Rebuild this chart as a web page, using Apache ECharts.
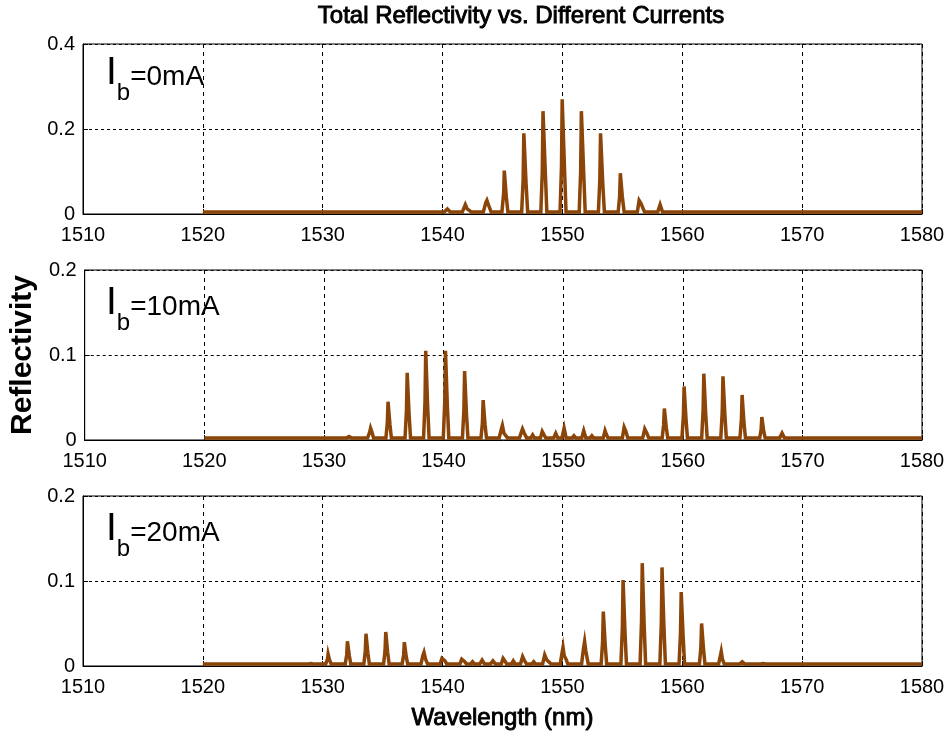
<!DOCTYPE html>
<html>
<head>
<meta charset="utf-8">
<script src="https://cdn.jsdelivr.net/npm/echarts@6/dist/echarts.min.js"></script>
<style>
  html, body { margin: 0; padding: 0; background: #fff; }
  #chart { width: 952px; height: 742px; }
</style>
</head>
<body>
<div id="chart"></div>
<script>
// ---- Data ----
const chartTitle = 'Total Reflectivity vs. Different Currents';
const xAxisTitle = 'Wavelength (nm)';
const yAxisTitle = 'Reflectivity';
const panelLabels = ['=0mA', '=10mA', '=20mA'];
const xTicks = { min: 1510, max: 1580, interval: 10 };
const yMax = [0.4, 0.2, 0.2];
const yInterval = [0.2, 0.1, 0.1];

// Ib = 0 mA : [wavelength nm, reflectivity]
const spectrum0mA = [
  [1520,0.005],
  [1540.15,0.005],[1540.4,0.012],[1540.65,0.005],
  [1541.65,0.005],[1541.9,0.022],[1542.05,0.012],[1542.2,0.014],[1542.4,0.005],
  [1543.4,0.005],[1543.6,0.026],[1543.7,0.032],[1543.85,0.02],[1544.05,0.005],
  [1544.95,0.005],[1545.1,0.05],[1545.15,0.102],[1545.25,0.102],[1545.32,0.04],[1545.45,0.005],
  [1546.6,0.005],[1546.72,0.08],[1546.78,0.19],[1546.9,0.19],[1546.97,0.07],[1547.1,0.005],
  [1548.2,0.005],[1548.32,0.1],[1548.38,0.242],[1548.5,0.242],[1548.57,0.1],[1548.7,0.005],
  [1549.8,0.005],[1549.92,0.11],[1549.98,0.27],[1550.1,0.27],[1550.17,0.11],[1550.3,0.005],
  [1551.4,0.005],[1551.52,0.1],[1551.58,0.242],[1551.7,0.242],[1551.77,0.1],[1551.9,0.005],
  [1553.0,0.005],[1553.12,0.08],[1553.18,0.19],[1553.3,0.19],[1553.37,0.07],[1553.5,0.005],
  [1554.65,0.005],[1554.77,0.04],[1554.83,0.096],[1554.93,0.096],[1555.0,0.04],[1555.15,0.005],
  [1556.25,0.005],[1556.4,0.032],[1556.55,0.025],[1556.7,0.015],[1556.85,0.005],
  [1557.95,0.005],[1558.15,0.022],[1558.35,0.005],
  [1580,0.005]
];

// Ib = 10 mA
const spectrum10mA = [
  [1520,0.0025],
  [1531.9,0.0025],[1532.1,0.004],[1532.3,0.0025],
  [1533.65,0.0025],[1533.82,0.009],[1533.9,0.014],[1534.0,0.01],[1534.15,0.0025],
  [1535.18,0.0025],[1535.3,0.02],[1535.36,0.045],[1535.46,0.045],[1535.52,0.018],[1535.64,0.0025],
  [1536.78,0.0025],[1536.9,0.035],[1536.96,0.079],[1537.06,0.079],[1537.12,0.03],[1537.24,0.0025],
  [1538.33,0.0025],[1538.45,0.045],[1538.51,0.105],[1538.61,0.105],[1538.67,0.04],[1538.79,0.0025],
  [1539.98,0.0025],[1540.1,0.045],[1540.16,0.105],[1540.26,0.105],[1540.32,0.04],[1540.44,0.0025],
  [1541.58,0.0025],[1541.7,0.035],[1541.76,0.081],[1541.86,0.081],[1541.92,0.03],[1542.04,0.0025],
  [1543.13,0.0025],[1543.25,0.02],[1543.31,0.047],[1543.41,0.047],[1543.47,0.018],[1543.59,0.0025],
  [1544.65,0.0025],[1544.82,0.012],[1544.92,0.017],[1545.05,0.008],[1545.2,0.01],[1545.35,0.0025],
  [1546.35,0.0025],[1546.5,0.009],[1546.6,0.013],[1546.75,0.008],[1546.95,0.0025],
  [1547.3,0.0025],[1547.45,0.006],[1547.6,0.0025],
  [1548.1,0.0025],[1548.25,0.01],[1548.4,0.006],[1548.55,0.0025],
  [1549.2,0.0025],[1549.38,0.008],[1549.55,0.0025],
  [1549.9,0.0025],[1550.08,0.014],[1550.25,0.0025],
  [1550.75,0.0025],[1550.9,0.005],[1551.05,0.0025],
  [1551.55,0.0025],[1551.72,0.011],[1551.9,0.0025],
  [1552.25,0.0025],[1552.4,0.005],[1552.55,0.0025],
  [1553.35,0.0025],[1553.5,0.011],[1553.6,0.007],[1553.75,0.0025],
  [1554.95,0.0025],[1555.1,0.015],[1555.25,0.01],[1555.4,0.0025],
  [1556.65,0.0025],[1556.82,0.013],[1557.0,0.008],[1557.15,0.0025],
  [1558.28,0.0025],[1558.4,0.018],[1558.46,0.037],[1558.56,0.037],[1558.62,0.015],[1558.74,0.0025],
  [1559.93,0.0025],[1560.05,0.028],[1560.11,0.063],[1560.21,0.063],[1560.27,0.025],[1560.39,0.0025],
  [1561.58,0.0025],[1561.7,0.035],[1561.76,0.078],[1561.86,0.078],[1561.92,0.03],[1562.04,0.0025],
  [1563.18,0.0025],[1563.3,0.033],[1563.36,0.075],[1563.46,0.075],[1563.52,0.03],[1563.64,0.0025],
  [1564.78,0.0025],[1564.9,0.024],[1564.96,0.053],[1565.06,0.053],[1565.12,0.02],[1565.24,0.0025],
  [1566.43,0.0025],[1566.55,0.012],[1566.61,0.027],[1566.71,0.027],[1566.77,0.01],[1566.89,0.0025],
  [1568.1,0.0025],[1568.3,0.008],[1568.5,0.0025],
  [1580,0.0025]
];

// Ib = 20 mA
const spectrum20mA = [
  [1520,0.0025],
  [1528.8,0.0025],[1529.0,0.003],[1529.2,0.0025],
  [1530.25,0.0025],[1530.4,0.008],[1530.45,0.014],[1530.55,0.008],[1530.7,0.0025],
  [1531.88,0.0025],[1532.0,0.013],[1532.06,0.029],[1532.16,0.029],[1532.22,0.012],[1532.34,0.0025],
  [1533.43,0.0025],[1533.55,0.017],[1533.61,0.038],[1533.71,0.038],[1533.77,0.015],[1533.89,0.0025],
  [1535.08,0.0025],[1535.2,0.018],[1535.26,0.04],[1535.36,0.04],[1535.42,0.016],[1535.54,0.0025],
  [1536.63,0.0025],[1536.75,0.013],[1536.81,0.028],[1536.91,0.028],[1536.97,0.011],[1537.09,0.0025],
  [1538.2,0.0025],[1538.35,0.012],[1538.45,0.016],[1538.58,0.008],[1538.75,0.0025],
  [1539.8,0.0025],[1539.95,0.009],[1540.05,0.011],[1540.2,0.006],[1540.35,0.0025],
  [1541.45,0.0025],[1541.6,0.008],[1541.7,0.01],[1541.85,0.005],[1542.0,0.0025],
  [1542.35,0.0025],[1542.5,0.005],[1542.65,0.0025],
  [1543.1,0.0025],[1543.3,0.007],[1543.5,0.0025],
  [1544.0,0.0025],[1544.2,0.006],[1544.4,0.0025],
  [1544.9,0.0025],[1545.05,0.009],[1545.2,0.006],[1545.35,0.0025],
  [1545.75,0.0025],[1545.9,0.006],[1546.05,0.0025],
  [1546.5,0.0025],[1546.68,0.011],[1546.85,0.006],[1547.0,0.0025],
  [1547.45,0.0025],[1547.6,0.005],[1547.75,0.0025],
  [1548.35,0.0025],[1548.52,0.013],[1548.7,0.007],[1548.85,0.009],[1549.05,0.0025],
  [1549.82,0.0025],[1549.95,0.014],[1550.05,0.022],[1550.15,0.012],[1550.3,0.008],[1550.45,0.0025],
  [1551.6,0.0025],[1551.75,0.02],[1551.85,0.029],[1551.95,0.018],[1552.15,0.0025],
  [1553.23,0.0025],[1553.35,0.028],[1553.41,0.064],[1553.51,0.064],[1553.57,0.025],[1553.69,0.0025],
  [1554.88,0.0025],[1555.0,0.045],[1555.06,0.101],[1555.16,0.101],[1555.22,0.04],[1555.34,0.0025],
  [1556.48,0.0025],[1556.6,0.053],[1556.66,0.121],[1556.76,0.121],[1556.82,0.048],[1556.94,0.0025],
  [1558.13,0.0025],[1558.25,0.05],[1558.31,0.116],[1558.41,0.116],[1558.47,0.046],[1558.59,0.0025],
  [1559.73,0.0025],[1559.85,0.038],[1559.91,0.087],[1560.01,0.087],[1560.07,0.035],[1560.19,0.0025],
  [1561.43,0.0025],[1561.55,0.022],[1561.61,0.05],[1561.71,0.05],[1561.77,0.02],[1561.89,0.0025],
  [1563.03,0.0025],[1563.15,0.01],[1563.25,0.017],[1563.35,0.008],[1563.5,0.0025],
  [1564.8,0.0025],[1565.0,0.005],[1565.2,0.0025],
  [1566.55,0.0025],[1566.75,0.003],[1566.95,0.0025],
  [1580,0.0025]
];

const spectra = [spectrum0mA, spectrum10mA, spectrum20mA];

// ---- Styling / layout ----
const LINE_COLOR = '#8B4508';
const NARROW = "'Liberation Sans Narrow', 'Liberation Sans', Arial, sans-serif";
const SANS = "'Liberation Sans', Arial, sans-serif";
const gridTops = [44, 270, 496];
const gridHeight = 170;
const labelTops = [54, 284, 510];

const chart = echarts.init(document.getElementById('chart'), null, { renderer: 'canvas' });

const grids = gridTops.map(t => ({
  left: 83, right: 30, top: t, height: gridHeight,
  show: true, borderColor: '#000', borderWidth: 1, backgroundColor: '#fff'
}));

const xAxes = gridTops.map((t, i) => ({
  gridIndex: i, type: 'value', min: xTicks.min, max: xTicks.max, interval: xTicks.interval,
  axisLine: { show: true, lineStyle: { color: '#000', width: 1 } },
  axisTick: { show: true, inside: true, length: 5, lineStyle: { color: '#000' } },
  axisLabel: { color: '#000', fontFamily: NARROW, fontSize: 20, margin: 11, formatter: v => String(v) },
  splitLine: { show: true, lineStyle: { color: '#000', type: [4, 4], width: 1 } },
  name: i === 2 ? xAxisTitle : '',
  nameLocation: 'middle', nameGap: 40,
  nameTextStyle: { color: '#000', fontFamily: SANS, fontSize: 24, textBorderColor: '#000', textBorderWidth: 0.9 }
}));

const yAxes = gridTops.map((t, i) => ({
  gridIndex: i, type: 'value', min: 0, max: yMax[i], interval: yInterval[i],
  axisLine: { show: true, lineStyle: { color: '#000', width: 1 } },
  axisTick: { show: true, inside: true, length: 5, lineStyle: { color: '#000' } },
  axisLabel: { color: '#000', fontFamily: NARROW, fontSize: 20, margin: 8, formatter: v => String(v) },
  splitLine: { show: true, lineStyle: { color: '#000', type: [3, 3], width: 1 } },
  name: i === 1 ? yAxisTitle : '',
  nameLocation: 'middle', nameGap: 46, nameRotate: 90,
  nameTextStyle: { color: '#000', fontFamily: SANS, fontSize: 30, fontWeight: 'bold' }
}));

const series = spectra.map((d, i) => ({
  type: 'line', xAxisIndex: i, yAxisIndex: i, data: d,
  showSymbol: false, symbol: 'none', smooth: false,
  lineStyle: { color: LINE_COLOR, width: 3.5, join: 'miter' },
  itemStyle: { color: LINE_COLOR },
  animation: false, z: 3
}));

const graphics = [
  {
    type: 'text', x: 521, y: 16, z: 10,
    style: {
      text: chartTitle, font: "24px 'Liberation Sans', Arial, sans-serif",
      fill: '#000', stroke: '#000', lineWidth: 0.9,
      textAlign: 'center', textVerticalAlign: 'middle'
    }
  }
].concat(panelLabels.map((lab, i) => ({
  type: 'text', x: 106, y: labelTops[i], z: 10,
  style: {
    text: '{i|I}{s|b}{r|' + lab + '}',
    textAlign: 'left', textVerticalAlign: 'top',
    rich: {
      i: { fontFamily: SANS, fontSize: 39, lineHeight: 39, verticalAlign: 'top', color: '#000' },
      s: { fontFamily: SANS, fontSize: 24, lineHeight: 24, verticalAlign: 'top', padding: [27, 0, 0, 0], color: '#000' },
      r: { fontFamily: SANS, fontSize: 28, lineHeight: 28, verticalAlign: 'top', padding: [9, 0, 0, 0], color: '#000' }
    }
  }
})));

chart.setOption({
  animation: false,
  backgroundColor: '#fff',
  grid: grids,
  xAxis: xAxes,
  yAxis: yAxes,
  series: series,
  graphic: graphics
});
</script>
</body>
</html>
